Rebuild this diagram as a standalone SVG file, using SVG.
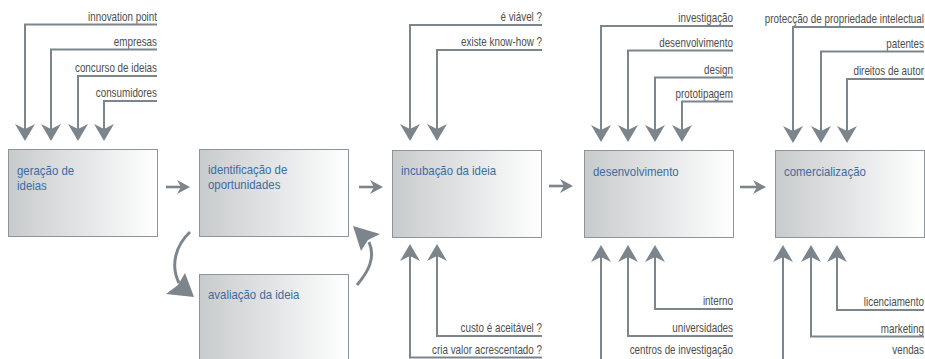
<svg xmlns="http://www.w3.org/2000/svg" width="925" height="359" viewBox="0 0 925 359">
<style>
.box{fill:url(#g);stroke:#8e9599;stroke-width:1}
.bt{font-family:"Liberation Sans",Arial,sans-serif;font-size:13.6px;fill:#3c6ca3}
.lb{font-family:"Liberation Sans",Arial,sans-serif;font-size:12px;fill:#4d4d4d;text-anchor:end}
.ln{fill:none;stroke:#7c858c;stroke-width:2}
.hz{fill:none;stroke:#7c858c;stroke-width:2.6}
.cv{fill:none;stroke:#7c858c;stroke-width:3}
.hd{fill:#7c858c}
</style>
<defs>
<linearGradient id="g" x1="0" y1="0" x2="1" y2="0">
<stop offset="0" stop-color="#c8cbcc"/>
<stop offset="1" stop-color="#ffffff"/>
</linearGradient>
<marker id="av" markerUnits="userSpaceOnUse" viewBox="-15 -15 30 30" markerWidth="30" markerHeight="30" refX="0" refY="0" orient="auto">
<path d="M12,0 L-5,-10 L0,0 L-5,10 Z" fill="#7c858c"/>
</marker>
<marker id="ah" markerUnits="userSpaceOnUse" viewBox="-15 -15 30 30" markerWidth="30" markerHeight="30" refX="0" refY="0" orient="auto">
<path d="M9,0 L-4,-7 L0,0 L-4,7 Z" fill="#7c858c"/>
</marker>
</defs>

<g id="n1">
<rect class="box" x="8.5" y="149.5" width="149" height="87"/>
<text class="bt" transform="translate(17,174.5) scale(0.84,1)">geração de</text>
<text class="bt" transform="translate(17,190) scale(0.84,1)">ideias</text>
</g>
<g id="n2">
<rect class="box" x="199.5" y="149.5" width="149" height="87"/>
<text class="bt" transform="translate(208,173.5) scale(0.84,1)">identificação de</text>
<text class="bt" transform="translate(208,189) scale(0.84,1)">oportunidades</text>
</g>
<g id="n2b">
<rect class="box" x="199.5" y="274.5" width="149" height="90"/>
<text class="bt" transform="translate(208,299) scale(0.84,1)">avaliação da ideia</text>
</g>
<g id="n3">
<rect class="box" x="392.5" y="150.5" width="149" height="87"/>
<text class="bt" transform="translate(401,175) scale(0.84,1)">incubação da ideia</text>
</g>
<g id="n4">
<rect class="box" x="584.5" y="150.5" width="149" height="87"/>
<text class="bt" transform="translate(593,176) scale(0.84,1)">desenvolvimento</text>
</g>
<g id="n5">
<rect class="box" x="775.5" y="150.5" width="149" height="87"/>
<text class="bt" transform="translate(784,176) scale(0.84,1)">comercialização</text>
</g>

<g id="labels">
<text class="lb" transform="translate(157,20.5) scale(0.82,1)">innovation point</text>
<text class="lb" transform="translate(157,45.5) scale(0.82,1)">empresas</text>
<text class="lb" transform="translate(157,72) scale(0.82,1)">concurso de ideias</text>
<text class="lb" transform="translate(157,97) scale(0.82,1)">consumidores</text>
<text class="lb" transform="translate(542,21) scale(0.82,1)">é viável ?</text>
<text class="lb" transform="translate(542,46) scale(0.82,1)">existe know-how ?</text>
<text class="lb" transform="translate(542,332) scale(0.82,1)">custo é aceitável ?</text>
<text class="lb" transform="translate(542,353.5) scale(0.82,1)">cria valor acrescentado ?</text>
<text class="lb" transform="translate(733,22) scale(0.82,1)">investigação</text>
<text class="lb" transform="translate(733,46.5) scale(0.82,1)">desenvolvimento</text>
<text class="lb" transform="translate(733,73.5) scale(0.82,1)">design</text>
<text class="lb" transform="translate(733,97.5) scale(0.82,1)">prototipagem</text>
<text class="lb" transform="translate(733,305) scale(0.82,1)">interno</text>
<text class="lb" transform="translate(733,332) scale(0.82,1)">universidades</text>
<text class="lb" transform="translate(733,354) scale(0.82,1)">centros de investigação</text>
<text class="lb" transform="translate(924,22.5) scale(0.82,1)">protecção de propriedade intelectual</text>
<text class="lb" transform="translate(924,47.5) scale(0.82,1)">patentes</text>
<text class="lb" transform="translate(924,75) scale(0.82,1)">direitos de autor</text>
<text class="lb" transform="translate(924,306) scale(0.82,1)">licenciamento</text>
<text class="lb" transform="translate(924,332.5) scale(0.82,1)">marketing</text>
<text class="lb" transform="translate(924,354) scale(0.82,1)">vendas</text>
</g>

<g id="connectors">
<path class="ln" marker-end="url(#av)" d="M157,24.5 H25 V129"/>
<path class="ln" marker-end="url(#av)" d="M157,49.5 H51 V129"/>
<path class="ln" marker-end="url(#av)" d="M157,76 H78 V129"/>
<path class="ln" marker-end="url(#av)" d="M157,101 H104 V129"/>

<path class="ln" marker-end="url(#av)" d="M542,25 H410 V129"/>
<path class="ln" marker-end="url(#av)" d="M542,50 H437 V129"/>
<path class="ln" marker-end="url(#av)" d="M542,336 H437 V256"/>
<path class="ln" marker-end="url(#av)" d="M542,357.5 H410 V256"/>

<path class="ln" marker-end="url(#av)" d="M733,26 H601 V130"/>
<path class="ln" marker-end="url(#av)" d="M733,50.5 H628 V130"/>
<path class="ln" marker-end="url(#av)" d="M733,77.5 H655 V130"/>
<path class="ln" marker-end="url(#av)" d="M733,101.5 H682 V130"/>
<path class="ln" marker-end="url(#av)" d="M733,309 H655 V257"/>
<path class="ln" marker-end="url(#av)" d="M733,336 H628 V257"/>
<path class="ln" marker-end="url(#av)" d="M733,363 H601 V257"/>

<path class="ln" marker-end="url(#av)" d="M924,27 H793 V131"/>
<path class="ln" marker-end="url(#av)" d="M924,51.5 H821 V131"/>
<path class="ln" marker-end="url(#av)" d="M924,79 H847 V131"/>
<path class="ln" marker-end="url(#av)" d="M924,310 H837 V257"/>
<path class="ln" marker-end="url(#av)" d="M924,336.5 H811 V257"/>
<path class="ln" marker-end="url(#av)" d="M924,363 H783 V257"/>

<path class="hz" marker-end="url(#ah)" d="M166,187 H181"/>
<path class="hz" marker-end="url(#ah)" d="M359,187 H374"/>
<path class="hz" marker-end="url(#ah)" d="M549,186 H564"/>
<path class="hz" marker-end="url(#ah)" d="M740,187 H757"/>

<path class="cv" d="M190,232 C176,245 170,265 179,283"/>
<path class="hd" d="M194,297 L185,273 L178,285 L166,294 Z"/>
<path class="cv" d="M357,285 C368,272 376,258 369,242"/>
<path class="hd" d="M353,226 L380,234 L368,240 L361,251 Z"/>
</g>
</svg>
